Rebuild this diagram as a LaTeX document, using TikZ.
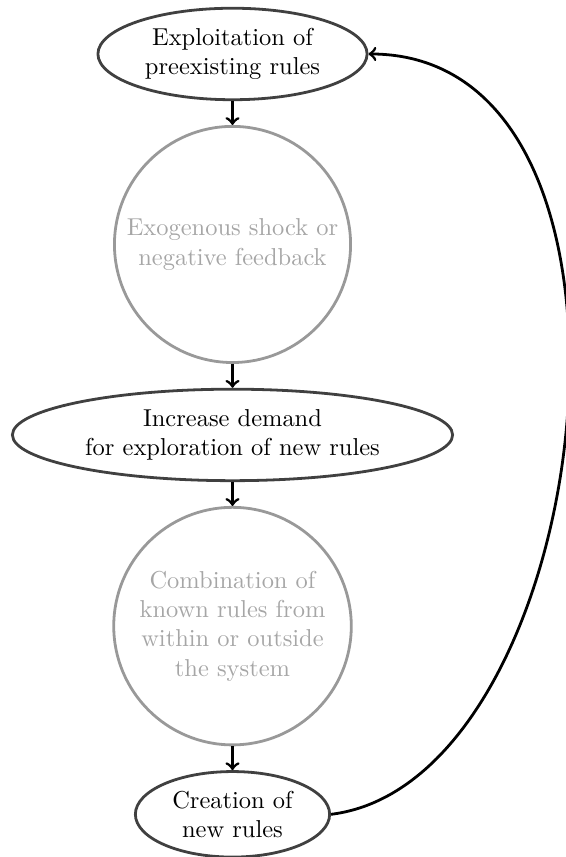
\documentclass[tikz,border=0pt]{standalone}
\usepackage{tikz}
\usetikzlibrary{shapes.geometric, positioning}

\begin{document}
\begin{tikzpicture}[node distance=0.36cm, >=to, font=\fontsize{10.5}{12.6}\selectfont,
        every edge/.append style={very thick},
        rule/.style={ellipse, draw=black!75, very thick, inner sep=1pt, align=center},
        phase/.style={circle, draw=black!40, text=black!35, very thick, minimum size=3.56cm, align=center}]
        \useasboundingbox (-3.507,0.814) rectangle (5.030,-12.112);
        \node[rule, minimum width=4.06cm, minimum height=1.38cm] (exploit) {Exploitation of\\preexisting rules};
        \node[phase, below=of exploit] (shock) {Exogenous shock or\\negative feedback};
        \node[rule, below=of shock, minimum width=6.64cm, minimum height=1.38cm] (demand) {Increase demand\\for exploration of new rules};
        \node[phase, below=of demand] (combine) {Combination of\\known rules from\\within or outside\\the system};
        \node[rule, below=of combine, minimum width=2.93cm, minimum height=1.29cm] (create) {Creation of\\new rules};

        \path[->]
        (exploit) edge (shock)
        (shock) edge (demand)
        (demand) edge (combine)
        (combine) edge (create)
        (create.east) edge[out=7, in=0, out looseness=0.9, in looseness=1.05] (exploit.east);
    \end{tikzpicture}
\end{document}
